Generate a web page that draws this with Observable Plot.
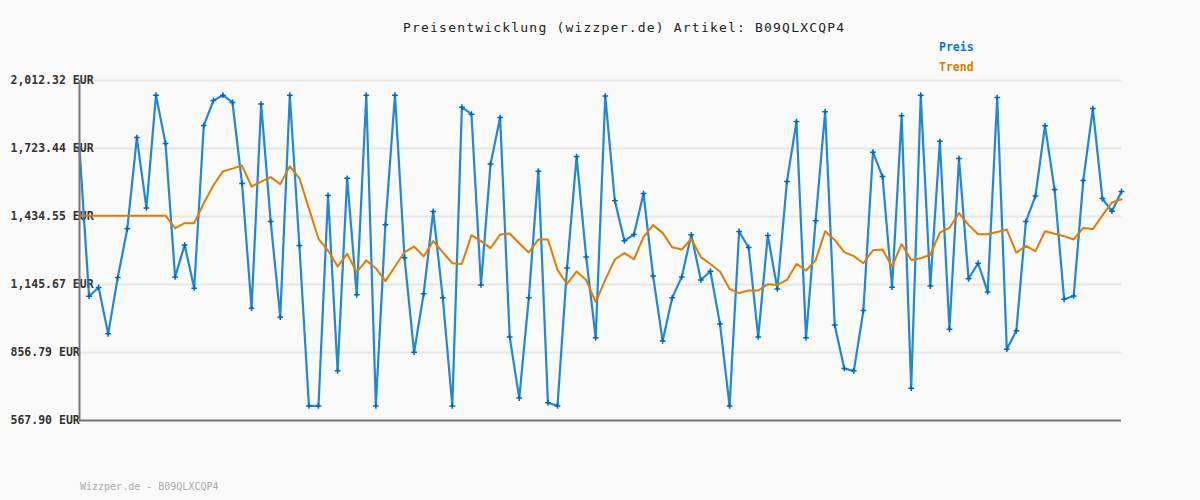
<!DOCTYPE html>
<html>
<head>
<meta charset="utf-8">
<script src="https://cdn.jsdelivr.net/npm/d3@7"></script>
<script src="https://cdn.jsdelivr.net/npm/@observablehq/plot@0.6"></script>
<style>
  html, body { margin: 0; padding: 0; background: #fafafa; }
  #wrap { position: relative; width: 1200px; height: 500px; overflow: hidden; }
  .t { position: absolute; font-family: "DejaVu Sans Mono", monospace; white-space: pre; }
  #title { left: 403px; top: 20px; font-size: 13px; line-height: 16px; letter-spacing: 1.2px; color: #222; }
  .leg { left: 939px; font-size: 11.5px; font-weight: bold; line-height: 16px; }
  #lp { top: 39px; color: #0a78c8; }
  #lt { top: 59px; color: #dd7a00; }
  #foot { left: 80px; top: 480px; font-size: 10px; line-height: 14px; color: #aaa; }
  #chart { position: absolute; left: 0; top: 0; }
</style>
</head>
<body>
<div id="wrap">
  <div id="chart"></div>
  <div class="t" id="title">Preisentwicklung (wizzper.de) Artikel: B09QLXCQP4</div>
  <div class="t leg" id="lp">Preis</div>
  <div class="t leg" id="lt">Trend</div>
  <div class="t" id="foot">Wizzper.de - B09QLXCQP4</div>
</div>
<script>
const preis = [
  1722,1096,1133,936,1175,1382,1770,1471,1950,1745,
  1178,1313,1130,1821,1927,1950,1919,1575,1045,1912,
  1413,1007,1950,1311,630,630,1524,779,1597,1102,
  1950,630,1399,1950,1259,858,1106,1456,1089,630,
  1899,1869,1144,1658,1855,923,663,1089,1627,643,
  630,1216,1689,1263,919,1946,1501,1331,1358,1532,
  1182,906,1089,1178,1357,1165,1202,978,630,1371,
  1303,923,1354,1127,1583,1838,919,1416,1880,974,
  789,779,1035,1708,1604,1134,1863,705,1950,1139,
  1754,956,1681,1170,1236,1114,1940,871,949,1413,
  1522,1820,1549,1083,1097,1587,1893,1511,1457,1541
];
const trend = [
  1438,1438,1438,1438,1438,1438,1438,1438,1438,1438,
  1385,1406,1406,1491,1566,1627,1638,1651,1562,1583,
  1602,1572,1648,1597,1469,1340,1290,1222,1276,1198,
  1248,1215,1160,1222,1283,1307,1265,1330,1283,1236,
  1233,1355,1330,1300,1358,1362,1321,1282,1337,1337,
  1208,1148,1201,1165,1071,1165,1252,1279,1253,1347,
  1398,1365,1304,1294,1340,1262,1233,1201,1127,1109,
  1120,1120,1147,1144,1165,1233,1205,1248,1372,1335,
  1283,1266,1236,1291,1294,1222,1318,1250,1257,1272,
  1366,1386,1449,1399,1359,1359,1369,1379,1281,1310,
  1287,1372,1361,1351,1337,1386,1381,1439,1494,1508
];
const yTicks = [567.90, 856.79, 1145.67, 1434.55, 1723.44, 2012.32];

const idx = d3.range(preis.length);
const fmt = d3.format(",.2f");

const chart = Plot.plot({
  width: 1200,
  height: 500,
  marginLeft: 79,
  marginRight: 79,
  marginTop: 80,
  marginBottom: 80,
  style: { background: "transparent" },
  x: { domain: [0, preis.length - 1], axis: null },
  y: { domain: [yTicks[0], yTicks[yTicks.length - 1]], axis: null },
  marks: [
    Plot.gridY(yTicks, { stroke: "#e6e6e6", strokeOpacity: 1, strokeWidth: 2 }),
    Plot.axisY(yTicks, {
      tickSize: 0, tickPadding: 0, textAnchor: "start", dx: -69,
      tickFormat: d => fmt(d) + " EUR",
      fontFamily: "DejaVu Sans Mono", fontSize: 11.5, fontWeight: "bold",
      fill: "#333"
    }),
    Plot.line(idx, { x: i => i, y: i => preis[i], stroke: "#0b7bcb", strokeWidth: 2.2, strokeOpacity: 0.9 }),
    Plot.dot(idx, { x: i => i, y: i => preis[i], symbol: "plus", r: 2, stroke: "#0068b8", strokeWidth: 1.5 }),
    Plot.line(idx, { x: i => i, y: i => trend[i], stroke: "#e07d05", strokeWidth: 2 }),
    Plot.ruleX([0], { stroke: "#777", strokeWidth: 2 }),
    Plot.ruleY([yTicks[0]], { stroke: "#777", strokeWidth: 2 })
  ]
});
document.getElementById("chart").appendChild(chart);
</script>
</body>
</html>
